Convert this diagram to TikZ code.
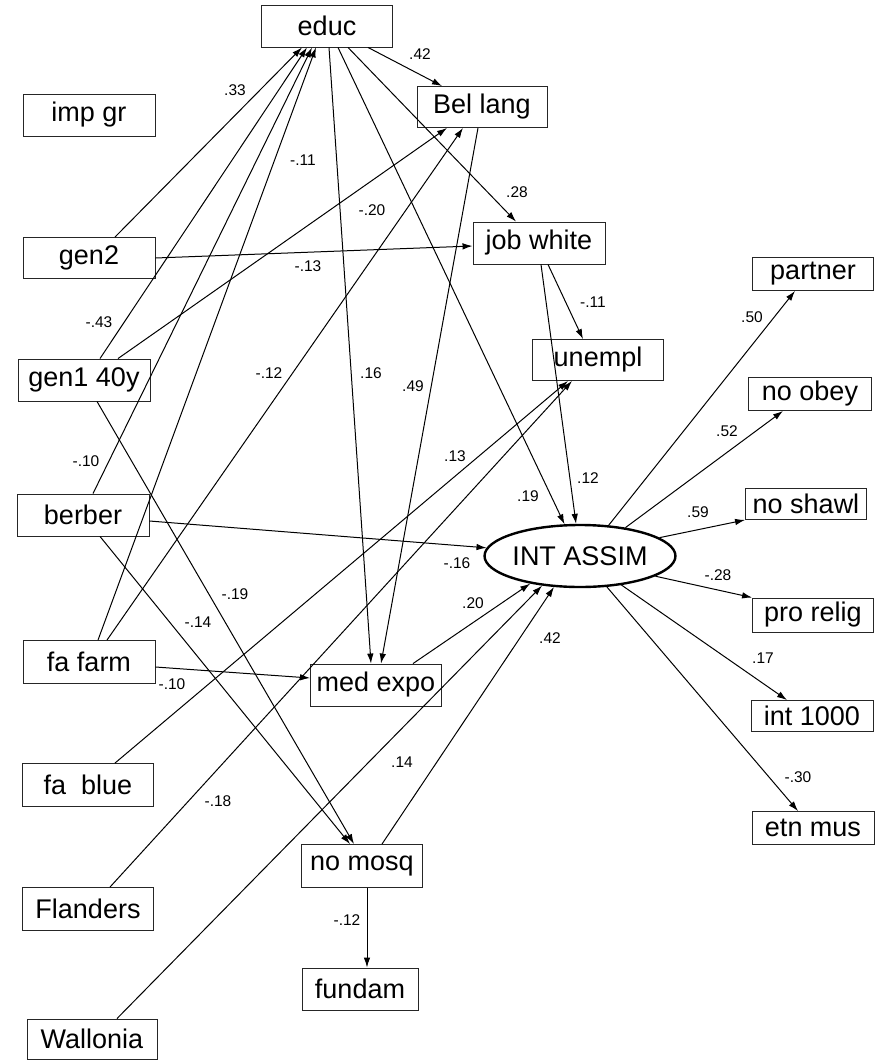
\documentclass[tikz,border=0pt]{standalone}
\usepackage{fontspec}
\setmainfont{Liberation Sans}
\usetikzlibrary{arrows.meta,shapes.geometric}
\begin{document}
\begin{tikzpicture}[x=1pt,y=-1pt,
  var/.style={draw=black!85, line width=0.9pt, rectangle, inner sep=0pt,
    font=\fontsize{27}{29}\selectfont},
  latent/.style={draw=black, line width=2.4pt, ellipse, inner sep=0pt,
    minimum width=188pt, minimum height=62pt, font=\fontsize{27}{29}\selectfont},
  link/.style={-{Latex[length=10pt,width=6.5pt]}, line width=1pt},
  coef/.style={font=\fontsize{15.5}{17}\selectfont, inner sep=0pt}
]
\useasboundingbox (0,0) rectangle (887,1061);
\fill[white] (0,0) rectangle (887,1061);

% observed variables
\node[var, minimum width=131pt, minimum height=42pt] (educ)     at (327,26)   {educ};
\node[var, minimum width=130pt, minimum height=41pt] (bel)      at (482,107)  {Bel lang};
\node[var, minimum width=132pt, minimum height=42pt] (impgr)    at (89,115)   {imp gr};
\node[var, minimum width=132pt, minimum height=41pt] (gentwo)   at (89,258)   {gen2};
\node[var, minimum width=132pt, minimum height=42pt] (job)      at (539,243)  {job white};
\node[var, minimum width=121pt, minimum height=33pt] (partner)  at (813,274)  {partner};
\node[var, minimum width=132pt, minimum height=42pt] (genone)   at (84,380)   {gen1 40y};
\node[var, minimum width=131pt, minimum height=41pt] (unempl)   at (598,360)  {unempl};
\node[var, minimum width=123pt, minimum height=33pt] (noobey)   at (810,394)  {no obey};
\node[var, minimum width=132pt, minimum height=42pt] (berber)   at (83,515)   {berber};
\node[var, minimum width=121pt, minimum height=31pt] (noshawl)  at (806,504)  {no shawl};
\node[var, minimum width=121pt, minimum height=34pt] (prorelig) at (813,615)  {pro relig};
\node[var, minimum width=132pt, minimum height=43pt] (fafarm)   at (89,662)   {fa farm};
\node[var, minimum width=131pt, minimum height=42pt] (medexpo)  at (376,685)  {med expo};
\node[var, minimum width=122pt, minimum height=31pt] (intk)     at (812,716)  {int 1000};
\node[var, minimum width=131pt, minimum height=43pt] (fablue)   at (88,785)   {fa\ \ blue};
\node[var, minimum width=122pt, minimum height=33pt] (etnmus)   at (813,828)  {etn mus};
\node[var, minimum width=121pt, minimum height=43pt] (nomosq)   at (362,866)  {no mosq};
\node[var, minimum width=131pt, minimum height=43pt] (flanders) at (88,909)   {Flanders};
\node[var, minimum width=116pt, minimum height=42pt] (fundam)   at (360,989)  {fundam};
\node[var, minimum width=130pt, minimum height=40pt] (wallonia) at (92,1039)  {Wallonia};

% latent variable
\node[latent] (int) at (580,556) {INT ASSIM};

% paths into educ
\draw[link] ([xshift=26pt]gentwo.north) -- ([xshift=-25pt]educ.south);
\draw[link] ([xshift=16pt]genone.north) -- ([xshift=-20pt]educ.south);
\draw[link] ([xshift=10pt]berber.north) -- ([xshift=-15pt]educ.south);
\draw[link] ([xshift=9pt]fafarm.north)  -- ([xshift=-11pt]educ.south);

% paths out of educ
\draw[link] ([xshift=41pt]educ.south) -- ([xshift=-40pt]bel.north);
\draw[link] ([xshift=21pt]educ.south) -- ([xshift=-23pt]job.north);
\draw[link] ([xshift=11pt]educ.south) -- (int.116);
\draw[link] ([xshift=2pt]educ.south)  -- ([xshift=-5pt]medexpo.north);

% Belgian language
\draw[link] ([xshift=-4pt]bel.south)    -- ([xshift=5pt]medexpo.north);
\draw[link] ([xshift=34pt]genone.north) -- ([xshift=-35pt]bel.south);
\draw[link] ([xshift=18pt]fafarm.north) -- ([xshift=-19pt]bel.south);

% occupation and unemployment
\draw[link] (gentwo.east) -- ([yshift=-3pt]job.west);
\draw[link] ([xshift=9pt]job.south) -- ([xshift=-15pt]unempl.north);
\draw[link] ([xshift=2pt]job.south) -- (int.97);
\draw[link] ([xshift=27pt]fablue.north)   -- ([xshift=-30pt]unempl.south);
\draw[link] ([xshift=22pt]flanders.north) -- ([xshift=-26pt]unempl.south);

% background variables
\draw[link] ([yshift=-6pt]berber.east) -- (int.175);
\draw[link] ([xshift=17pt]berber.south) -- ([xshift=-12pt]nomosq.north);
\draw[link] ([xshift=13pt]genone.south) -- ([xshift=-8pt]nomosq.north);
\draw[link] ([yshift=-5pt]fafarm.east) -- ([yshift=7pt]medexpo.west);

% into the latent variable from below
\draw[link] ([xshift=37pt]medexpo.north) -- (int.209);
\draw[link] ([xshift=20pt]nomosq.north)  -- (int.230);
\draw[link] ([xshift=25pt]wallonia.north) -- (int.218);
\draw[link] ([xshift=5pt]nomosq.south) -- ([xshift=7pt]fundam.north);

% indicators of the latent variable
\draw[link] (int.47)  -- ([xshift=-18pt]partner.south);
\draw[link] (int.32)  -- ([xshift=-27pt]noobey.south);
\draw[link] (int.13)  -- (noshawl.south west);
\draw[link] (int.-15) -- (prorelig.north west);
\draw[link] (int.-35) -- ([xshift=-25pt]intk.north);
\draw[link] (int.-49) -- ([xshift=-15pt]etnmus.north);

% coefficients
\node[coef] (c1)  at (235,90)  {.33};
\node[coef] (c2)  at (420,54)  {.42};
\node[coef] (c3)  at (303,160) {-.11};
\node[coef] (c4)  at (372,210) {-.20};
\node[coef] (c5)  at (308,266) {-.13};
\node[coef] (c6)  at (517,192) {.28};
\node[coef] (c7)  at (99,322)  {-.43};
\node[coef] (c8)  at (269,373) {-.12};
\node[coef] (c9)  at (371,373) {.16};
\node[coef] (c10) at (413,386) {.49};
\node[coef] (c11) at (593,302) {-.11};
\node[coef] (c12) at (752,317) {.50};
\node[coef] (c13) at (727,431) {.52};
\node[coef] (c14) at (455,456) {.13};
\node[coef] (c15) at (528,496) {.19};
\node[coef] (c16) at (588,478) {.12};
\node[coef] (c17) at (698,512) {.59};
\node[coef] (c18) at (86,461)  {-.10};
\node[coef] (c19) at (457,563) {-.16};
\node[coef] (c20) at (718,575) {-.28};
\node[coef] (c21) at (473,603) {.20};
\node[coef] (c22) at (235,594) {-.19};
\node[coef] (c23) at (198,622) {-.14};
\node[coef] (c24) at (550,638) {.42};
\node[coef] (c25) at (763,658) {.17};
\node[coef] (c26) at (172,684) {-.10};
\node[coef] (c27) at (402,762) {.14};
\node[coef] (c28) at (218,801) {-.18};
\node[coef] (c29) at (798,777) {-.30};
\node[coef] (c30) at (347,920) {-.12};
\end{tikzpicture}
\end{document}
